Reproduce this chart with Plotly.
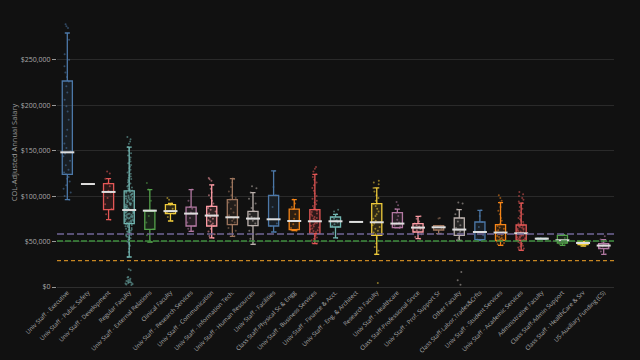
import plotly.graph_objects as go

categories = [
    "Univ Staff - Executive", "Univ Staff - Public Safety", "Univ Staff - Development",
    "Regular Faculty", "Univ Staff - External Relations", "Clinical Faculty",
    "Univ Staff - Research Services", "Univ Staff - Communication", "Univ Staff - Information Tech.",
    "Univ Staff - Human Resources", "Univ Staff - Facilities", "Class Staff-Physical Sc & Engg",
    "Univ Staff - Business Services", "Univ Staff - Finance & Acct.", "Univ Staff - Eng. & Architect",
    "Research Faculty", "Univ Staff - Healthcare", "Class Staff-Professional Srvce",
    "Univ Staff - Prof. Support Sr", "Other Faculty", "Class Staff-Labor,Trades&Crfts",
    "Univ Staff - Student Services", "Univ Staff - Academic Services", "Administrative Faculty",
    "Class Staff-Admin Support", "Class Staff - HealthCare & Srv", "US-Auxiliary Funding (CS)",
]

# box statistics, in thousands of dollars
q1 =     [124.0, 113.3, 85.2, 69.8, 63.5, 80.8, 67.1, 67.1, 68.7, 67.5, 67.1, 63.2, 58.8, 66.0, 71.6,
          56.9, 65.4, 60.5, 62.7, 56.9, 52.2, 51.4, 51.4, 52.6, 48.4, 46.7, 42.3]
median = [148.2, 113.3, 104.6, 84.7, 84.0, 83.5, 80.8, 78.6, 76.7, 75.3, 74.5, 72.6, 72.3, 72.3, 71.6,
          71.2, 69.8, 65.4, 65.7, 63.2, 60.5, 59.9, 59.1, 53.2, 51.4, 48.4, 45.6]
q3 =     [226.7, 113.3, 113.8, 105.7, 84.4, 90.6, 88.0, 88.8, 96.2, 83.3, 100.9, 85.8, 85.2, 77.0, 71.6,
          91.7, 81.8, 69.8, 67.5, 75.9, 71.5, 68.7, 68.2, 53.6, 56.9, 50.3, 47.8]
lower =  [96.2, 113.3, 74.1, 33.0, 49.5, 72.6, 61.3, 54.0, 55.8, 47.0, 60.5, 62.0, 47.8, 54.0, 71.6,
          36.0, 65.0, 53.2, 58.8, 51.4, 51.4, 45.9, 40.4, 52.6, 45.9, 45.0, 36.0]
upper =  [279.5, 113.3, 119.3, 154.0, 107.2, 92.0, 107.2, 112.3, 119.3, 103.9, 127.7, 96.2, 124.0, 80.0, 71.6,
          109.0, 85.8, 77.8, 67.5, 85.2, 84.4, 92.9, 92.4, 53.6, 57.5, 50.3, 52.2]

# sample points, in thousands of dollars
points = [
    [289, 287, 285, 272, 256, 250, 243, 236, 231, 226, 221, 214, 206, 199, 193, 184, 173, 166, 158, 153,
     149, 147, 144, 139, 134, 129, 126, 124, 121, 119, 116, 112, 108, 104, 100, 96],
    [113.3, 113.3],
    [127, 125, 119, 114, 111, 106, 104, 98, 91, 86, 80, 74],
    [2.1, 2.8, 3.4, 3.9, 4.3, 4.8, 5.1, 5.6, 6.2, 6.7, 7.3, 8.1, 9.2, 10.4, 11.0, 18.3, 19.6,
     33, 38.5, 42, 45.3, 47.1, 48.8, 50.2, 51.4, 52.3, 53.7, 54.6, 55.2, 56.4, 57.3, 58.1, 58.9, 59.6,
     60.4, 61.2, 61.9, 62.7, 63.3, 64.1, 64.8, 65.5, 66.2, 66.9, 67.4, 68.1, 68.8, 69.4,
     70.1, 70.6, 71.2, 71.7, 72.3, 72.8, 73.2, 73.9, 74.4, 74.8, 75.3, 75.9, 76.2, 76.8, 77.3, 77.7,
     78.2, 78.8, 79.1, 79.6, 80.2, 80.7, 81.1, 81.6, 82.2, 82.6, 83.1, 83.5, 84.0, 84.4,
     85.1, 85.8, 86.3, 87.0, 87.6, 88.2, 88.9, 89.4, 90.1, 90.8, 91.3, 92.0, 92.7, 93.3, 94.1, 94.8,
     95.4, 96.2, 96.9, 97.5, 98.3, 99.0, 99.8, 100.5, 101.3, 102.1, 102.9, 103.6, 104.4, 105.2,
     106.1, 107.3, 108.2, 109.4, 110.6, 111.5, 112.8, 113.9, 115.2, 116.4, 117.8, 118.9, 120.3,
     121.7, 123.1, 124.6, 126.0, 127.5, 129.1, 130.8, 132.4, 134.2, 136.1, 138.0, 140.3, 142.5,
     144.8, 147.2, 149.9, 152.1, 154.0, 157.5, 160.2, 162.6, 165.0],
    [114.5, 107.2, 95, 84.4, 84, 78, 71, 63.5, 57, 49.5],
    [98, 96, 92, 90.6, 86, 83.5, 82, 80.8, 77, 72.6],
    [107.2, 95, 88, 86, 82, 80.8, 76, 71, 67.1, 64, 61.3],
    [120, 118.5, 117, 112.3, 108, 104, 101, 98, 95, 92, 90, 88.8, 87, 85, 83, 81, 79.5, 78.6, 77, 75,
     73.5, 72, 70, 68.5, 67.1, 64, 61, 58, 56, 54],
    [119.3, 118.5, 115, 110, 105, 101, 98, 96.2, 93, 90, 86, 82, 79, 76.7, 75, 73, 71, 68.7, 65, 62,
     59, 55.8],
    [110.8, 108.6, 103.9, 97, 92, 87, 83.3, 80, 77, 75.3, 73, 70, 67.5, 62, 58, 53, 47],
    [127.7, 110, 100.9, 88, 74.5, 70, 67.1, 60.5],
    [96.2, 92, 88, 85.8, 80, 75, 72.6, 69, 65, 63.2, 62.5, 62],
    [132, 130, 127, 124, 121, 118, 115, 112, 109, 106, 103, 100, 97, 95, 93, 91, 89, 87, 85.2, 84,
     82.5, 81, 80, 78.5, 77, 76, 75, 74, 73, 72.3, 71.5, 70.5, 69.5, 68.5, 67.5, 66.5, 65.5, 64.5,
     63.5, 62.5, 61.5, 60.5, 59.5, 58.8, 57.5, 56, 54.5, 53, 51.5, 50, 48.5, 47.8],
    [85, 83, 80, 77, 75, 73.5, 72.3, 71, 69, 67, 66, 60, 54],
    [71.6, 71.6, 71.6],
    [117, 115, 113, 109, 105, 101, 98, 95, 92, 91.7, 89, 86, 83, 80, 78, 75, 73, 71.2, 70, 68, 66,
     64, 62, 60, 58, 56.9, 54, 51, 48, 44, 40, 36, 4.4],
    [93.5, 90, 85.8, 81.8, 78, 74, 71, 69.8, 68, 66.5, 65.4, 65],
    [77.8, 75, 72, 69.8, 68, 66.5, 65.4, 64, 62.5, 60.5, 58, 55, 53.2],
    [76, 75.3, 67.5, 66.5, 65.7, 64.5, 62.7, 58.8],
    [93, 92, 85.2, 80, 75.9, 72, 68, 65, 63.2, 61, 59, 56.9, 54, 51.4, 16.5, 7.4, 2.6],
    [84.4, 78, 71.5, 66, 60.5, 57, 52.2, 51.4],
    [100.9, 98, 95, 92.9, 88, 84, 80, 76, 73, 70, 68.7, 67, 65.5, 64, 62.5, 61, 59.9, 58.5, 57,
     56, 55, 54, 53, 52, 51.4, 50, 48.5, 47, 45.9],
    [104.5, 102, 100, 98, 96, 94, 92.4, 90, 88, 86, 84, 82, 80, 78, 76, 74.5, 73, 71.5, 70, 69, 68.2,
     67.5, 66.8, 66, 65.2, 64.5, 63.8, 63, 62.3, 61.6, 61, 60.3, 59.7, 59.1, 58.5, 57.9, 57.3, 56.7,
     56, 55.4, 54.8, 54.2, 53.6, 53, 52.4, 51.8, 51.4, 50.5, 49.5, 48.5, 47.5, 46.5, 45.5, 44.5,
     43.5, 42.5, 41.5, 40.4],
    [52.6, 53.0, 53.2, 53.5, 53.6],
    [57.5, 56.9, 54, 51.4, 50, 48.4, 47, 45.9],
    [50.3, 49.5, 48.4, 47.5, 46.7, 45],
    [55.8, 52.2, 49, 47.8, 46.5, 45.6, 44.5, 43, 42.3, 39, 36],
]

reference_lines = [58.3, 50.6, 29.0]
ref_colors = ["rgb(112,102,150)", "rgb(62,140,62)", "rgb(200,135,35)"]
ref_dash = ["7px,3px", "6px,2px", "4px,3px"]
ref_width = [1.6, 1.6, 1.2]

palette = ["#4C78A8", "#F58518", "#E45756", "#72B7B2", "#54A24B",
           "#EECA3B", "#B279A2", "#FF9DA6", "#9D755D", "#BAB0AC"]


def rgba(hexc, a):
    h = hexc.lstrip("#")
    return "rgba(%d,%d,%d,%.2f)" % (int(h[0:2], 16), int(h[2:4], 16), int(h[4:6], 16), a)


K = 1000
positions = list(range(len(categories)))
fig = go.Figure()
for i, cat in enumerate(categories):
    col = palette[i % len(palette)]
    fig.add_trace(go.Box(
        x=[positions[i]],
        y=[[v * K for v in points[i]]],
        q1=[q1[i] * K], median=[median[i] * K], q3=[q3[i] * K],
        lowerfence=[lower[i] * K], upperfence=[upper[i] * K],
        name=cat, showlegend=False,
        boxpoints="all", jitter=0.9, pointpos=0,
        marker=dict(color=col, size=2, opacity=0.55),
        line=dict(color=col, width=1.3),
        fillcolor=rgba(col, 0.13),
    ))

fig.add_trace(go.Scatter(
    x=positions, y=[m * K for m in median], mode="markers", showlegend=False,
    marker=dict(symbol="line-ew", size=10, color="#dedede",
                line=dict(color="#dedede", width=2)),
    hoverinfo="skip",
))

for val, c, d, w in zip(reference_lines, ref_colors, ref_dash, ref_width):
    fig.add_shape(type="line", xref="paper", x0=0, x1=1, yref="y", y0=val * K, y1=val * K,
                  line=dict(color=c, width=w, dash=d), layer="above")

fig.update_layout(
    width=640, height=360,
    template="none",
    paper_bgcolor="#111111", plot_bgcolor="#111111",
    margin=dict(l=57, r=26, t=18, b=73),
    font=dict(family="Open Sans", size=6, color="#aaaaaa"),
    boxmode="overlay",
    hovermode=False,
    xaxis=dict(type="linear", tickmode="array", tickvals=positions, ticktext=categories,
               range=[-0.5, len(categories) - 0.5],
               tickangle=-45, tickfont=dict(size=6, color="#aaaaaa"), showgrid=False,
               zeroline=False, showline=False, automargin=False, ticks=""),
    yaxis=dict(title=dict(text="COL-Adjusted Annual Salary", font=dict(size=7.5, color="#999999")),
               range=[0, 296000], dtick=50000, tickprefix="$", tickformat=",d",
               tickfont=dict(size=7, color="#aaaaaa"), automargin=False,
               ticks="outside", ticklen=4, tickcolor="#999999",
               showgrid=True, gridcolor="#2a2a2a", gridwidth=1,
               zeroline=True, zerolinecolor="#2e2e2e", showline=False),
)

fig.write_html("out.html", config={"displayModeBar": False},
               post_script="document.body.style.margin='0';document.body.style.background='#111111';")
